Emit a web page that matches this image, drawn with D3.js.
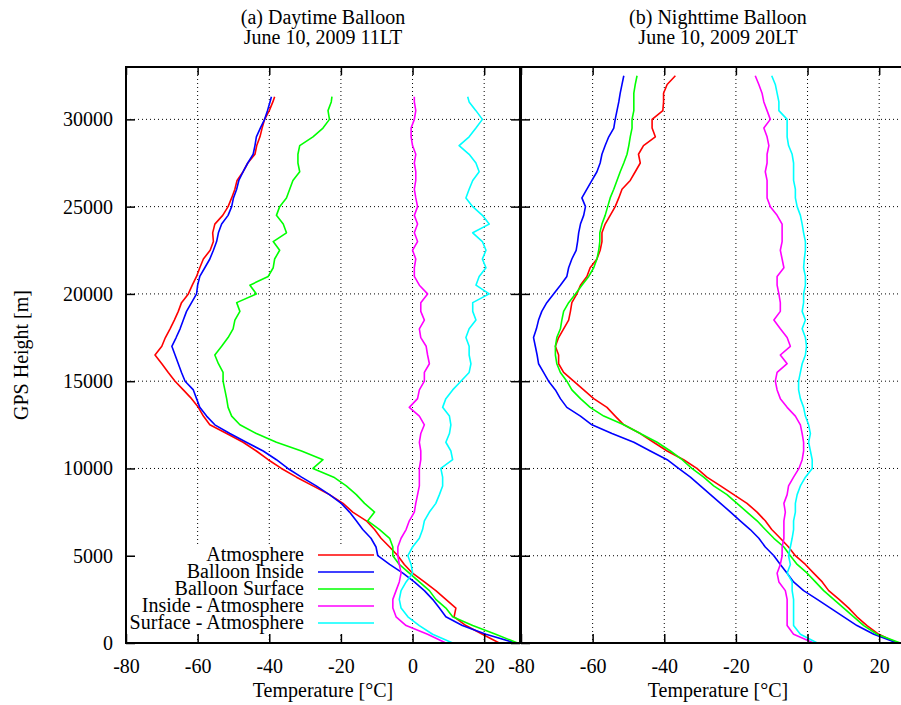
<!DOCTYPE html>
<meta charset="utf-8">
<style>

  body {
    margin: 0;
    background: #fff;
  }

  text {
    font-family: "Liberation Serif", "Times New Roman", serif;
    font-size: 20px;
    fill: #000;
  }

  .grid line {
    stroke: #000;
    stroke-width: 1;
    stroke-dasharray: 1,3;
  }

  .tick line {
    stroke: #000;
    stroke-width: 1.5;
  }

  .frame {
    fill: none;
    stroke: #000;
    stroke-width: 2;
  }

  .series {
    fill: none;
    stroke-width: 1.6;
    stroke-linejoin: round;
  }

</style>
<svg width="901" height="705"></svg>
<script src="https://d3js.org/d3.v7.min.js"></script>
<script>

var dayHeights = [0, 500, 1000, 1500, 2000, 2500, 3000, 3500, 4000, 4500,
  5000, 5500, 6000, 6500, 7000, 7500, 8000, 8500, 9000, 9500,
  10000, 10500, 11000, 11500, 12000, 12500, 13000, 13500, 14000, 14500,
  15000, 15500, 16000, 16500, 17000, 17500, 18000, 18500, 19000, 19500,
  20000, 20500, 21000, 21500, 22000, 22500, 23000, 23500, 24000, 24500,
  25000, 25500, 26000, 26500, 27000, 27500, 28000, 28500, 29000, 29500,
  30000, 30500, 31000, 31300];

var nightHeights = [0, 500, 1000, 1500, 2000, 2500, 3000, 3500, 4000, 4500,
  5000, 5500, 6000, 6500, 7000, 7500, 8000, 8500, 9000, 9500,
  10000, 10500, 11000, 11500, 12000, 12500, 13000, 13500, 14000, 14500,
  15000, 15500, 16000, 16500, 17000, 17500, 18000, 18500, 19000, 19500,
  20000, 20500, 21000, 21500, 22000, 22500, 23000, 23500, 24000, 24500,
  25000, 25500, 26000, 26500, 27000, 27500, 28000, 28500, 29000, 29500,
  30000, 30500, 31000, 31500, 32000, 32500];

// (a) daytime, temperatures in degC
var dayAtmosphere = [24.2, 19.5, 14.9, 11.6, 12.1, 9.3, 6.5, 3.3, 0.0, -2.3,
  -4.1, -6.4, -8.8, -10.6, -12.9, -16.7, -19.4, -23.2, -27.8, -32.4,
  -36.6, -40.3, -43.6, -47.3, -51.9, -56.6, -58.4, -59.8, -61.7, -64.0,
  -66.3, -68.2, -70.0, -71.9, -70.0, -69.0, -67.7, -66.5, -65.4, -64.5,
  -62.6, -61.5, -60.3, -59.4, -58.4, -56.5, -55.6, -55.8, -55.2, -53.0,
  -51.5, -50.5, -49.6, -49.0, -47.3, -46.0, -44.0, -43.5, -42.6, -42.0,
  -41.3, -40.0, -39.0, -38.5];

var dayInside = [28.8, 20.5, 13.9, 9.3, 7.5, 5.6, 3.3, 0.5, -2.7, -6.4,
  -9.7, -10.2, -11.6, -13.9, -15.7, -17.6, -19.9, -23.2, -26.9, -31.0,
  -34.8, -38.0, -41.7, -46.4, -51.0, -55.2, -57.5, -59.4, -60.3, -61.2,
  -63.5, -64.5, -65.4, -66.3, -67.2, -66.0, -64.9, -64.0, -63.1, -61.7,
  -60.3, -60.0, -59.4, -58.0, -56.6, -55.6, -54.7, -54.2, -53.3, -51.5,
  -50.5, -50.0, -49.1, -48.5, -47.3, -46.0, -44.5, -44.0, -43.6, -42.5,
  -41.3, -40.5, -39.8, -39.4];

var daySurface = [29.3, 23.2, 16.8, 11.2, 9.3, 6.5, 4.7, 1.9, -0.9, -3.7,
  -5.5, -5.5, -6.4, -9.2, -12.5, -10.6, -13.4, -15.7, -18.5, -22.0,
  -27.8, -25.0, -31.0, -38.0, -43.6, -48.2, -50.5, -51.5, -51.9, -52.4,
  -52.9, -52.9, -54.2, -55.2, -53.3, -51.5, -50.1, -49.6, -48.2, -49.1,
  -43.6, -45.4, -40.3, -38.9, -38.5, -37.1, -38.9, -35.2, -36.1, -38.0,
  -37.1, -35.2, -34.3, -33.4, -31.5, -32.0, -32.0, -31.5, -27.8, -25.0,
  -23.2, -23.6, -22.7, -22.5];

var dayInsideDiff = [9.3, 4.2, -1.8, -4.6, -5.5, -5.5, -4.6, -3.7, -3.2, -3.7,
  -4.1, -4.1, -3.2, -1.8, -0.9, 0.5, 0.9, 1.4, 1.9, 1.9,
  1.9, 2.3, 2.3, 1.9, 2.3, 3.3, 1.9, -0.9, 1.4, 1.9,
  3.3, 3.3, 4.7, 4.2, 3.8, 2.3, 1.9, 3.3, 2.3, 2.3,
  4.2, 1.9, 0.5, 0.5, 0.9, 0.0, 1.4, 0.5, 1.4, 0.5,
  1.4, 0.9, 0.5, 0.9, 0.9, 0.5, 0.9, 0.0, -0.4, -0.4,
  0.5, 0.9, 0.5, 0.5];

var daySurfaceDiff = [11.2, 5.6, 1.9, -1.3, -3.2, -3.7, -3.2, -1.8, 0.0, -0.4,
  -1.3, 0.0, 1.9, 2.8, 3.3, 4.7, 6.5, 7.5, 8.4, 8.4,
  7.9, 11.2, 10.7, 9.3, 10.3, 10.7, 10.3, 8.4, 9.3, 11.2,
  13.5, 15.8, 16.3, 15.8, 15.8, 14.9, 15.8, 17.7, 16.8, 16.8,
  21.4, 17.7, 18.6, 20.5, 19.5, 20.5, 19.5, 16.8, 21.4, 19.5,
  16.8, 14.9, 15.8, 16.8, 18.6, 17.7, 15.8, 13.0, 15.8, 17.7,
  19.5, 17.7, 15.8, 15.4];

// (b) nighttime, temperatures in degC
var nightAtmosphere = [25.0, 19.9, 16.6, 13.8, 11.5, 8.8, 5.9, 4.1, 1.7, -0.6,
  -3.4, -5.3, -7.6, -10.0, -11.8, -14.1, -16.9, -20.6, -24.3, -28.1,
  -30.9, -34.6, -39.2, -43.0, -46.7, -51.3, -53.7, -56.0, -59.7, -62.5,
  -65.3, -68.1, -69.5, -69.5, -70.4, -69.5, -68.1, -66.7, -66.2, -65.8,
  -64.4, -63.4, -61.6, -60.7, -58.8, -57.9, -57.4, -57.4, -56.5, -55.1,
  -53.7, -52.7, -51.8, -49.5, -48.1, -46.7, -47.2, -45.8, -42.5, -43.4,
  -43.4, -40.4, -40.2, -40.2, -39.2, -36.9];

var nightInside = [25.0, 18.5, 13.8, 10.1, 6.4, 2.7, -1.1, -3.9, -5.7, -7.6,
  -9.4, -11.8, -13.6, -16.0, -18.8, -21.5, -24.3, -27.1, -29.9, -32.7,
  -36.0, -39.2, -43.9, -48.5, -54.6, -60.2, -63.4, -67.2, -69.0, -70.4,
  -72.3, -73.7, -75.1, -75.5, -76.0, -76.5, -75.7, -75.1, -74.2, -72.8,
  -70.9, -69.0, -67.2, -66.7, -65.8, -64.6, -64.2, -63.9, -63.4, -62.5,
  -62.0, -63.0, -61.6, -60.2, -58.8, -57.9, -57.4, -56.5, -55.5, -54.1,
  -53.7, -53.2, -52.7, -52.3, -51.8, -51.3];

var nightSurface = [25.9, 19.4, 15.7, 12.9, 10.1, 7.3, 4.5, 2.2, -0.1, -2.9,
  -4.8, -6.6, -9.4, -11.8, -14.1, -16.9, -19.7, -22.5, -26.2, -29.0,
  -32.3, -35.0, -38.3, -42.0, -46.7, -51.3, -56.9, -60.7, -63.4, -65.8,
  -67.2, -69.0, -70.0, -70.4, -70.4, -70.0, -69.0, -68.6, -68.1, -66.7,
  -64.8, -63.0, -61.1, -59.7, -58.8, -58.3, -58.0, -58.0, -57.4, -56.5,
  -55.8, -55.1, -54.1, -53.2, -52.3, -51.3, -50.4, -49.9, -49.5, -49.0,
  -49.0, -48.5, -48.5, -48.5, -48.1, -47.6];

var nightInsideDiff = [1.7, -3.9, -5.7, -5.7, -5.7, -5.7, -6.2, -8.0, -8.5, -7.6,
  -7.1, -7.1, -6.6, -6.6, -6.6, -6.2, -6.6, -5.7, -5.3, -3.9,
  -2.4, -1.5, -1.1, -1.1, -1.5, -2.0, -3.4, -5.7, -7.6, -8.5,
  -9.0, -8.5, -5.7, -7.6, -4.8, -5.7, -7.6, -9.4, -7.6, -7.6,
  -8.0, -8.5, -8.5, -6.6, -7.1, -7.6, -7.1, -7.1, -7.1, -8.5,
  -10.4, -11.3, -11.3, -11.3, -11.8, -11.3, -11.3, -10.8, -11.3, -12.2,
  -10.4, -11.3, -12.2, -12.7, -13.6, -14.6];

var nightSurfaceDiff = [2.7, -2.0, -3.9, -3.9, -3.9, -3.9, -4.3, -4.3, -5.7, -4.8,
  -5.3, -4.8, -4.3, -3.9, -3.9, -3.4, -3.4, -2.9, -2.0, -0.6,
  1.3, 1.3, 0.8, 0.3, 0.8, 0.3, -0.6, -1.1, -2.0, -2.5,
  -2.5, -2.0, -1.5, -0.6, -0.3, -0.6, -1.5, -0.6, -1.5, -1.1,
  -1.1, -0.6, -0.6, -1.1, -0.9, -0.6, -0.6, -1.1, -1.5, -2.0,
  -2.9, -3.4, -3.4, -3.9, -3.9, -3.9, -4.3, -5.3, -5.7, -5.7,
  -5.7, -8.0, -8.0, -8.5, -9.0, -10.0];

var seriesNames = ["Atmosphere", "Balloon Inside", "Balloon Surface",
                   "Inside - Atmosphere", "Surface - Atmosphere"];
var colorkey = ["#ff0000", "#0000ff", "#00ff00", "#ff00ff", "#00ffff"];

var xTicks = [-80, -60, -40, -20, 0, 20];
var yTicks = [0, 5000, 10000, 15000, 20000, 25000, 30000];

var panels = [
  { left: 126, right: 520,
    title: ["(a) Daytime Balloon", "June 10, 2009 11LT"],
    heights: dayHeights,
    values: [dayAtmosphere, dayInside, daySurface, dayInsideDiff, daySurfaceDiff] },
  { left: 521, right: 915,
    title: ["(b) Nighttime Balloon", "June 10, 2009 20LT"],
    heights: nightHeights,
    values: [nightAtmosphere, nightInside, nightSurface, nightInsideDiff, nightSurfaceDiff] }
];

var svg = d3.select("svg"),
    plotTop = 67,
    plotBottom = 643;

var y = d3.scaleLinear()
    .domain([0, 33000])
    .range([plotBottom, plotTop]);

var defs = svg.append("defs");

panels.forEach(function(p, i) {

  var x = d3.scaleLinear()
      .domain([-80, 30])
      .range([p.left, p.right]);

  defs.append("clipPath")
      .attr("id", "clip" + i)
    .append("rect")
      .attr("x", p.left)
      .attr("y", plotTop)
      .attr("width", p.right - p.left)
      .attr("height", plotBottom - plotTop);

  var g = svg.append("g");

  // dotted grid
  var grid = g.append("g").attr("class", "grid");
  grid.selectAll("line.v")
    .data(xTicks.filter(function(d) { return d > -80; }))
    .enter().append("line")
      .attr("x1", function(d) { return x(d); })
      .attr("x2", function(d) { return x(d); })
      .attr("y1", plotTop)
      .attr("y2", plotBottom);
  grid.selectAll("line.h")
    .data(yTicks.filter(function(d) { return d > 0; }))
    .enter().append("line")
      .attr("x1", p.left)
      .attr("x2", p.right)
      .attr("y1", function(d) { return y(d); })
      .attr("y2", function(d) { return y(d); });

  // key box blanks the grid behind it
  if (i === 0) {
    g.append("rect")
        .attr("x", p.left + 1)
        .attr("y", 546)
        .attr("width", 251)
        .attr("height", 88)
        .attr("fill", "#fff");
  }

  var line = d3.line()
      .x(function(d) { return x(d[0]); })
      .y(function(d) { return y(d[1]); });

  seriesNames.forEach(function(name, k) {
    g.append("path")
        .datum(d3.zip(p.values[k], p.heights))
        .attr("class", "series")
        .attr("stroke", colorkey[k])
        .attr("clip-path", "url(#clip" + i + ")")
        .attr("d", line);
  });

  var label = function(d) { return String(d); };

  g.append("g")
      .attr("transform", "translate(0," + plotBottom + ")")
      .call(d3.axisBottom(x).tickValues(xTicks).tickSize(-9).tickPadding(16).tickFormat(label))
      .call(function(a) { a.select(".domain").remove(); });

  g.append("g")
      .attr("transform", "translate(0," + plotTop + ")")
      .call(d3.axisTop(x).tickValues(xTicks).tickSize(-8).tickFormat(""))
      .call(function(a) { a.select(".domain").remove(); });

  g.append("g")
      .attr("transform", "translate(" + p.left + ",0)")
      .call(d3.axisLeft(y).tickValues(yTicks).tickSize(-9).tickPadding(13)
            .tickFormat(i === 0 ? label : ""))
      .call(function(a) { a.select(".domain").remove(); });

  g.append("g")
      .attr("transform", "translate(" + p.right + ",0)")
      .call(d3.axisRight(y).tickValues(yTicks).tickSize(-9).tickFormat(""))
      .call(function(a) { a.select(".domain").remove(); });

  g.append("rect")
      .attr("class", "frame")
      .attr("x", p.left)
      .attr("y", plotTop)
      .attr("width", p.right - p.left)
      .attr("height", plotBottom - plotTop);

  var cx = (p.left + p.right) / 2;

  g.append("text")
      .attr("x", cx)
      .attr("y", 24)
      .attr("text-anchor", "middle")
      .text(p.title[0]);

  g.append("text")
      .attr("x", cx)
      .attr("y", 44)
      .attr("text-anchor", "middle")
      .text(p.title[1]);

  g.append("text")
      .attr("x", cx)
      .attr("y", 697)
      .attr("text-anchor", "middle")
      .text("Temperature [\u00B0C]");

  if (i === 0) {
    var key = g.append("g").attr("class", "key");
    var rows = key.selectAll("g")
      .data(seriesNames)
      .enter().append("g")
        .attr("transform", function(d, k) { return "translate(0," + (555 + k * 17) + ")"; });
    rows.append("text")
        .attr("x", 304)
        .attr("dy", 6)
        .attr("text-anchor", "end")
        .text(function(d) { return d; });
    rows.append("line")
        .attr("x1", 318)
        .attr("x2", 374)
        .attr("stroke-width", 1.3)
        .attr("stroke", function(d, k) { return colorkey[k]; });
  }

});

svg.append("text")
    .attr("transform", "translate(28," + (plotTop + plotBottom) / 2 + ") rotate(-90)")
    .attr("text-anchor", "middle")
    .text("GPS Height [m]");

</script>
